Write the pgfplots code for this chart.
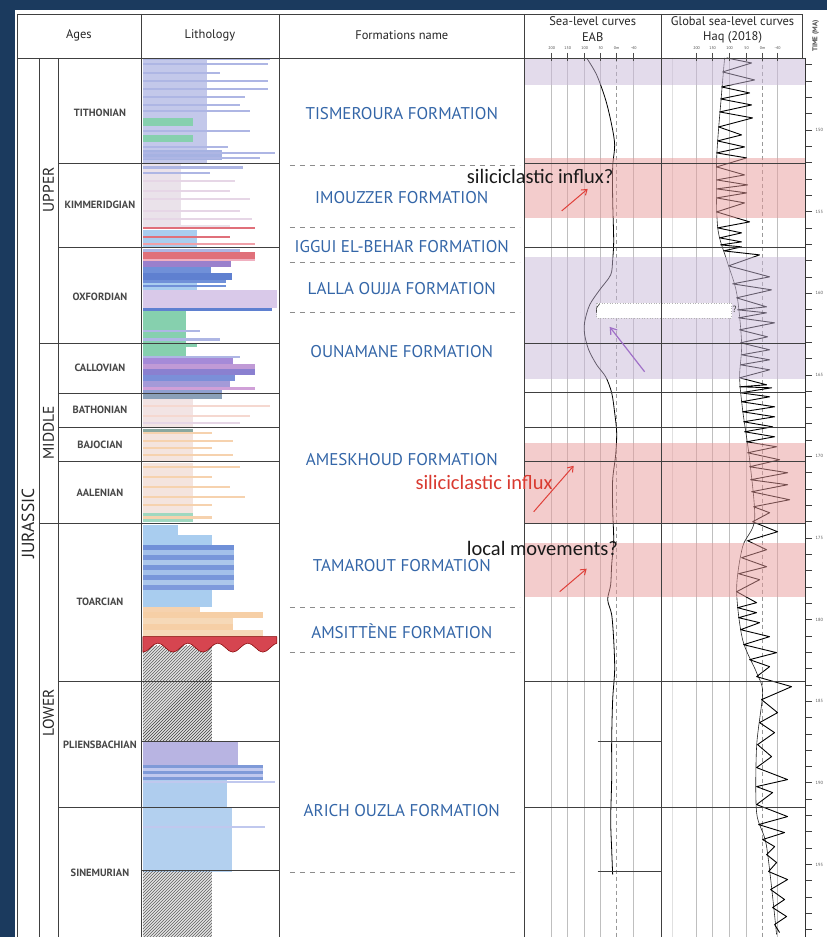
\documentclass[border=0pt]{standalone}
\usepackage{pgfplots}
\pgfplotsset{compat=1.18}
\usepackage{fontspec}
\setmainfont{PT Sans}
\newfontfamily\annot{Carlito}
\usetikzlibrary{patterns,arrows.meta}
\definecolor{navy}{HTML}{1B3A5E}
\definecolor{fblue}{HTML}{3466A8}
\definecolor{lav}{HTML}{C3C8EA}
\definecolor{lavline}{HTML}{AEB6E4}
\definecolor{mint}{HTML}{86D0AE}
\definecolor{pinkgray}{HTML}{EAE2EA}
\definecolor{lblue}{HTML}{A9CDEF}
\definecolor{redl}{HTML}{E0707A}
\definecolor{purp}{HTML}{9A80CC}
\definecolor{mblue}{HTML}{7090D8}
\definecolor{dblue}{HTML}{5F80D0}
\definecolor{lilac}{HTML}{D9C9E9}
\definecolor{cA}{HTML}{A6B2E2}
\definecolor{cB}{HTML}{E6D6E6}
\definecolor{cC}{HTML}{F0A0A8}
\definecolor{cD}{HTML}{F0B0C0}
\definecolor{cE}{HTML}{A58AD8}
\definecolor{cF}{HTML}{C09AD6}
\definecolor{cG}{HTML}{8A80D0}
\definecolor{cH}{HTML}{7B8FD8}
\definecolor{cI}{HTML}{A49AD8}
\definecolor{cJ}{HTML}{D0A0D8}
\definecolor{cK}{HTML}{8FA0D0}
\definecolor{cL}{HTML}{8AA0B8}
\definecolor{cM}{HTML}{F2E4E4}
\definecolor{cN}{HTML}{F5D8D0}
\definecolor{cO}{HTML}{8AA8A0}
\definecolor{cP}{HTML}{F4E4DE}
\definecolor{peach}{HTML}{F6D2AE}
\definecolor{cQ}{HTML}{A0D8C0}
\definecolor{cR}{HTML}{A3C0EA}
\definecolor{cS}{HTML}{7896DA}
\definecolor{cT}{HTML}{ACC7EB}
\definecolor{cU}{HTML}{7E9ADC}
\definecolor{cV}{HTML}{F6CFA6}
\definecolor{cW}{HTML}{F6D9B8}
\definecolor{cX}{HTML}{B8B4E2}
\definecolor{cY}{HTML}{7F9AD8}
\definecolor{cZ}{HTML}{C0C8EE}
\definecolor{sinb}{HTML}{B3D0EF}
\definecolor{plb}{HTML}{AFCDEE}
\definecolor{wavered}{HTML}{D64550}
\definecolor{bandpink}{HTML}{E89A9A}
\definecolor{bandpurp}{HTML}{C9B9D9}
\definecolor{arrred}{HTML}{E0403A}
\definecolor{arrpurp}{HTML}{A070C8}
\definecolor{txtred}{HTML}{D93A30}
\newcommand{\Lr}[4]{\addplot[fill=#4,draw=none] coordinates {(143,#1)(#3,#1)(#3,#2)(143,#2)} --cycle;}
\newcommand{\HL}[3]{\addplot[black!75,line width=0.9pt] coordinates {(#1,#3)(#2,#3)};}
\newcommand{\VL}[3]{\addplot[black!75,line width=0.9pt] coordinates {(#1,#2)(#1,#3)};}
\newcommand{\DL}[1]{\addplot[black!45,line width=0.8pt,dash pattern=on 5pt off 5pt] coordinates {(290,#1)(520,#1)};}
\newcommand{\TL}[2]{\node[font=\fontsize{4.5}{5}\selectfont,text=black!65,anchor=west] at (axis cs:812.5,#2) {#1};}
\newcommand{\HT}[2]{\node[font=\fontsize{4}{4}\selectfont,text=black!70] at (axis cs:#1,48.5) {#2};}
\newcommand{\ST}[2]{\node[font=\fontsize{10.5}{11}\selectfont\bfseries,text=black!72] at (axis cs:100,#2) {#1};}
\newcommand{\FT}[2]{\node[font=\fontsize{17}{17}\selectfont,text=fblue] at (axis cs:402,#2) {#1};}
\begin{document}
\begin{tikzpicture}
\begin{axis}[x=1pt,y=1pt,xmin=0,xmax=827,ymin=0,ymax=937,y dir=reverse,hide axis,clip=false]
% background
\addplot[fill=navy,draw=none] coordinates {(0,0)(827,0)(827,937)(0,937)} --cycle;
\addplot[fill=white,draw=none] coordinates {(15,10)(827,10)(827,937)(15,937)} --cycle;
% ---------- lithology ----------
% Tithonian
\Lr{58}{60}{270}{lavline}
\Lr{60}{160}{207}{lav}
\Lr{63}{65}{268}{lavline}
\Lr{72}{74}{220}{lavline}
\Lr{80}{82}{268}{lavline}
\Lr{88}{90}{268}{lavline}
\Lr{96}{98}{245}{lavline}
\Lr{104}{106}{240}{lavline}
\Lr{110}{112}{250}{lavline}
\Lr{118}{126}{193}{mint}
\Lr{130}{132}{250}{lavline}
\Lr{135}{142}{193}{mint}
\Lr{146}{148}{228}{lavline}
\Lr{150}{160}{222}{cA}
\Lr{152}{154}{275}{lavline}
\Lr{157}{159}{260}{lavline}
\Lr{160}{163}{207}{lav}
% Kimmeridgian
\Lr{163}{225}{181}{pinkgray}
\Lr{166}{169}{243}{lavline}
\Lr{172}{174}{210}{lavline}
\Lr{180}{182}{235}{cB}
\Lr{190}{192}{230}{cB}
\Lr{198}{200}{250}{cB}
\Lr{210}{212}{240}{cB}
\Lr{218}{220}{252}{cB}
\Lr{225}{228}{230}{pinkgray}
\Lr{227}{229}{255}{redl}
\Lr{230}{247}{197}{lblue}
\Lr{236}{238}{230}{redl}
\Lr{243}{245}{255}{cC}
% Oxfordian
\Lr{249}{252}{240}{lavline}
\Lr{252}{259}{255}{redl}
\Lr{259}{261}{255}{cD}
\Lr{261}{267}{231}{purp}
\Lr{267}{273}{211}{mblue}
\Lr{273}{280}{232}{dblue}
\Lr{280}{283}{226}{mblue}
\Lr{283}{290}{197}{lblue}
\Lr{285}{287}{226}{mblue}
\Lr{290}{308}{277}{lilac}
\Lr{308}{311}{272}{dblue}
\Lr{311}{343}{186}{mint}
\Lr{330}{332}{200}{lavline}
\Lr{338}{341}{220}{lavline}
% Callovian
\Lr{344}{347}{197}{mint}
\Lr{347}{358}{186}{mint}
\Lr{356}{358}{240}{lavline}
\Lr{358}{364}{233}{cE}
\Lr{364}{369}{255}{cF}
\Lr{369}{375}{255}{cG}
\Lr{375}{381}{235}{cH}
\Lr{381}{387}{230}{cI}
\Lr{387}{390}{255}{cJ}
\Lr{390}{393}{222}{cK}
% Bathonian
\Lr{394}{399}{222}{cL}
\Lr{399}{428}{193}{cM}
\Lr{405}{407}{270}{cN}
\Lr{415}{417}{250}{cN}
\Lr{422}{424}{240}{cB}
% Bajocian
\Lr{429}{432}{193}{cO}
\Lr{432}{462}{193}{cP}
\Lr{432}{434}{212}{peach}
\Lr{440}{442}{233}{peach}
\Lr{447}{449}{212}{peach}
\Lr{454}{456}{233}{peach}
% Aalenian
\Lr{463}{513}{193}{cP}
\Lr{466}{468}{240}{peach}
\Lr{476}{478}{212}{peach}
\Lr{486}{488}{230}{peach}
\Lr{496}{498}{245}{peach}
\Lr{504}{506}{212}{peach}
\Lr{513}{522}{193}{cQ}
\Lr{516}{519}{212}{peach}
% Toarcian
\Lr{525}{535}{178}{lblue}
\Lr{535}{545}{212}{lblue}
\Lr{545}{550}{234}{mblue}
\Lr{550}{555}{234}{cR}
\Lr{555}{560}{234}{cS}
\Lr{560}{565}{234}{cT}
\Lr{565}{570}{234}{cS}
\Lr{570}{575}{234}{cR}
\Lr{575}{580}{234}{cS}
\Lr{580}{585}{234}{cT}
\Lr{585}{590}{234}{cU}
\Lr{590}{607}{212}{lblue}
\Lr{607}{612}{200}{peach}
\Lr{612}{618}{263}{cV}
\Lr{618}{624}{233}{cW}
\Lr{624}{630}{233}{cV}
\Lr{630}{638}{263}{cW}
% hatch under unconformity
\addplot[fill=black!12,draw=none] coordinates {(143,646)(212,646)(212,742)(143,742)} --cycle;
\addplot[pattern=north east lines,pattern color=black!75,draw=none] coordinates {(143,646)(212,646)(212,742)(143,742)} --cycle;
% red wavy unconformity
\addplot[fill=wavered,draw=red!50!black,line width=0.5pt,line join=round] coordinates {(143,637)(277,637)(277,643.6)(274.25,644.8)(270.5,648)(266.75,651.2)(263,652.5)(259.25,651.2)(255.5,648)(251.75,644.8)(248,643.5)(244.25,644.8)(240.5,648)(236.75,651.2)(233,652.5)(229.25,651.2)(225.5,648)(221.75,644.8)(218,643.5)(214.25,644.8)(210.5,648)(206.75,651.2)(203,652.5)(199.25,651.2)(195.5,648)(191.75,644.8)(188,643.5)(184.25,644.8)(180.5,648)(176.75,651.2)(173,652.5)(169.25,651.2)(165.5,648)(161.75,644.8)(158,643.5)(154.25,644.8)(150.5,648)(146.75,651.2)(143,652.5)} --cycle;
% Pliensbachian
\Lr{742}{765}{238}{cX}
\Lr{765}{768}{263}{cY}
\Lr{768}{771}{263}{cZ}
\Lr{771}{774}{263}{cY}
\Lr{774}{777}{263}{cZ}
\Lr{777}{780}{263}{cY}
\Lr{780}{808}{227}{plb}
\Lr{781}{783}{275}{cZ}
% Sinemurian
\Lr{808}{872}{232}{sinb}
\Lr{826}{828}{265}{cZ}
\addplot[fill=black!12,draw=none] coordinates {(143,872)(212,872)(212,937)(143,937)} --cycle;
\addplot[pattern=north east lines,pattern color=black!75,draw=none] coordinates {(143,872)(212,872)(212,937)(143,937)} --cycle;
% ---------- grid of sea-level columns ----------
\addplot[black!25,line width=1pt] coordinates {(552,58)(552,937)};
\addplot[black!25,line width=1pt] coordinates {(568,58)(568,937)};
\addplot[black!25,line width=1pt] coordinates {(585,58)(585,937)};
\addplot[black!25,line width=1pt] coordinates {(601,58)(601,937)};
\addplot[black!40,line width=0.7pt,dash pattern=on 4pt off 3pt] coordinates {(617,58)(617,937)};
\addplot[black!25,line width=1pt] coordinates {(634,58)(634,937)};
\addplot[black!12,line width=1pt] coordinates {(673,58)(673,937)};
\addplot[black!25,line width=1pt] coordinates {(697,58)(697,937)};
\addplot[black!25,line width=1pt] coordinates {(713,58)(713,937)};
\addplot[black!25,line width=1pt] coordinates {(730,58)(730,937)};
\addplot[black!25,line width=1pt] coordinates {(747,58)(747,937)};
\addplot[black!40,line width=0.7pt,dash pattern=on 4pt off 3pt] coordinates {(763,58)(763,937)};
\addplot[black!25,line width=1pt] coordinates {(778,58)(778,937)};
% EAB curve
\addplot[black,line width=0.8pt,smooth] coordinates {(587,58)(597,75)(606,100)(612,125)(615,145)(613,167)(613,200)(614,240)(613,260)(611,275)(600,290)(590,305)(585,322)(585,335)(589,350)(597,365)(606,377)(612,393)(615,413)(617,433)(616,455)(613,480)(613,510)(614,540)(612,565)(611,585)(608,600)(612,615)(614,640)(615,670)(613,700)(612,740)(612,780)(611,820)(612,850)(613,875)};
% Haq long-term curve
\addplot[black!85,line width=0.6pt,smooth] coordinates {(725,58)(722,93)(717,160)(718,227)(727,260)(737,293)(742,343)(740,377)(743,410)(750,460)(755,520)(743,547)(737,590)(743,640)(757,673)(763,693)(757,747)(757,813)(767,847)(777,935)};
% Haq short-term curve
\addplot[black,line width=0.9pt,line join=round] coordinates {
(727,58)(752,63)(723,72)(755,80)(722,87)(750,93)(721,99)(752,105)(720,112)(753,118)(719,127)(742,135)(718,141)(745,147)(717,153)(747,158)(717,167)(745,175)(717,180)(748,185)(717,189)(747,193)(717,198)(745,203)(717,212)(750,222)(718,228)(742,233)(720,238)(742,242)(721,245)(742,247)(724,251)(760,255)(729,266)(770,277)(733,284)(772,290)(737,298)(767,307)(738,310)(767,313)(739,318)(775,323)(740,330)(768,337)(741,343)(770,350)(742,355)(770,360)(741,365)(770,370)(740,378)(767,385)(740,387)(772,388)(741,393)(770,397)(742,402)(775,407)(743,412)(775,417)(744,422)(773,427)(745,432)(775,437)(747,442)(777,447)(748,453)(780,460)(750,467)(788,473)(751,480)(788,485)(752,492)(790,500)(754,507)(770,513)(753,522)(778,532)(748,541)(767,550)(742,558)(767,567)(739,574)(760,580)(737,592)(757,603)(738,608)(757,613)(739,618)(760,623)(741,630)(770,637)(744,645)(777,653)(750,660)(770,667)(757,677)(792,687)(762,700)(778,713)(760,723)(775,733)(758,745)(772,757)(757,768)(788,780)(757,787)(773,793)(757,805)(788,817)(759,825)(785,833)(763,840)(775,847)(767,855)(777,863)(769,872)(788,880)(771,890)(785,900)(773,908)(787,917)(775,925)(780,933)};
% ---------- coloured bands ----------
\addplot[fill=bandpurp,fill opacity=0.5,draw=none] coordinates {(525,58)(805,58)(805,85)(525,85)} --cycle;
\addplot[fill=bandpink,fill opacity=0.5,draw=none] coordinates {(525,158)(805,158)(805,218)(525,218)} --cycle;
\addplot[fill=bandpurp,fill opacity=0.5,draw=none] coordinates {(525,257)(805,257)(805,379)(525,379)} --cycle;
\addplot[fill=bandpink,fill opacity=0.5,draw=none] coordinates {(525,443)(805,443)(805,523)(525,523)} --cycle;
\addplot[fill=bandpink,fill opacity=0.5,draw=none] coordinates {(525,543)(805,543)(805,597)(525,597)} --cycle;
% dotted box with question mark
\addplot[fill=white,draw=black!30,dotted,line width=0.6pt] coordinates {(597,303)(732,303)(732,318)(597,318)} --cycle;
\addplot[black!80,line width=0.6pt,smooth] coordinates {(600,304)(597,308)(597,313)};
\node[font=\fontsize{9}{9}\selectfont,text=black!80] at (axis cs:735,310) {?};
% ---------- frame ----------
\HL{17}{803}{14}
\HL{17}{806}{58}
\VL{17}{14}{937}
\VL{141.5}{14}{937}
\VL{280}{14}{937}
\VL{525}{14}{937}
\VL{662}{14}{937}
\VL{803}{14}{58}
\VL{39}{58}{937}
\VL{58}{58}{937}
\HL{39}{58}{344}
\HL{39}{58}{524}
\HL{58}{280}{163.5}
\HL{58}{280}{248}
\HL{58}{280}{344}
\HL{58}{280}{394}
\HL{58}{280}{428}
\HL{58}{280}{462}
\HL{58}{280}{524}
\HL{58}{280}{682}
\HL{142}{280}{742}
\HL{58}{280}{808}
\HL{142}{280}{871}
\HL{525}{806}{164}
\HL{525}{806}{248}
\HL{525}{806}{344}
\HL{525}{806}{393}
\HL{525}{806}{428}
\HL{525}{806}{462}
\HL{525}{806}{524}
\HL{525}{806}{682}
\HL{598}{662}{742}
\HL{525}{806}{808}
\HL{598}{662}{872}
\DL{165}
\DL{228}
\DL{263}
\DL{313}
\DL{608}
\DL{653}
\DL{873}
% ---------- time axis ----------
\addplot[black!80,line width=1pt] coordinates {(806,58)(806,937)};
\addplot[only marks,mark=-,mark size=3,mark options={black!75,line width=0.6pt}] coordinates {
(809,64.7)(809,81.0)(809,97.3)(809,113.7)(809,130)(809,146.3)(809,162.7)(809,179.0)(809,195.3)(809,211.7)(809,228.0)(809,244.3)(809,260.6)(809,277.0)(809,293.3)(809,309.6)(809,326.0)(809,342.3)(809,358.6)(809,375.0)(809,391.3)(809,407.6)(809,423.9)(809,440.3)(809,456.6)(809,472.9)(809,489.3)(809,505.6)(809,521.9)(809,538.3)(809,554.6)(809,570.9)(809,587.2)(809,603.6)(809,619.9)(809,636.2)(809,652.6)(809,668.9)(809,685.2)(809,701.6)(809,717.9)(809,734.2)(809,750.5)(809,766.9)(809,783.2)(809,799.5)(809,815.9)(809,832.2)(809,848.5)(809,864.9)(809,881.2)(809,897.5)(809,913.8)(809,930.2)};
\TL{150}{130}
\TL{155}{211.7}
\TL{160}{293.3}
\TL{165}{375.0}
\TL{170}{456.6}
\TL{175}{538.3}
\TL{180}{619.9}
\TL{185}{701.6}
\TL{190}{783.2}
\TL{195}{864.9}
\node[rotate=90,font=\fontsize{7}{7}\selectfont\bfseries,text=black!70] at (axis cs:816,36) {TIME (MA)};
% header ticks
\addplot[only marks,mark=|,mark size=4,mark options={black!70,line width=0.5pt}] coordinates {(552,57)(568,57)(585,57)(601,57)(617,57)(634,57)(697,57)(713,57)(730,57)(747,57)(763,57)(778,57)};
\HT{552}{200}
\HT{568}{150}
\HT{585}{100}
\HT{601}{50}
\HT{617}{0m}
\HT{634}{-40}
\HT{697}{200}
\HT{713}{150}
\HT{730}{100}
\HT{747}{50}
\HT{763}{0m}
\HT{778}{-40}
% header texts
\node[font=\fontsize{12.5}{13}\selectfont,text=black!85] at (axis cs:79,35) {Ages};
\node[font=\fontsize{12.5}{13}\selectfont,text=black!85] at (axis cs:210,35) {Lithology};
\node[font=\fontsize{12.5}{13}\selectfont,text=black!85] at (axis cs:402,35) {Formations name};
\node[font=\fontsize{12.5}{13}\selectfont,text=black!85] at (axis cs:593,21) {Sea-level curves};
\node[font=\fontsize{12.5}{13}\selectfont,text=black!85] at (axis cs:593,37) {EAB};
\node[font=\fontsize{12.5}{13}\selectfont,text=black!85] at (axis cs:733,21) {Global sea-level curves};
\node[font=\fontsize{12.5}{13}\selectfont,text=black!85] at (axis cs:733,37) {Haq (2018)};
% ages
\ST{TITHONIAN}{113}
\ST{KIMMERIDGIAN}{205}
\ST{OXFORDIAN}{297}
\ST{CALLOVIAN}{368}
\ST{BATHONIAN}{410}
\ST{BAJOCIAN}{445}
\ST{AALENIAN}{493}
\ST{TOARCIAN}{602}
\ST{PLIENSBACHIAN}{745}
\ST{SINEMURIAN}{873}
\node[rotate=90,font=\fontsize{15.5}{15.5}\selectfont,text=black!85] at (axis cs:48.5,190) {UPPER};
\node[rotate=90,font=\fontsize{15.5}{15.5}\selectfont,text=black!85] at (axis cs:48.5,433) {MIDDLE};
\node[rotate=90,font=\fontsize{15.5}{15.5}\selectfont,text=black!85] at (axis cs:48.5,713) {LOWER};
\node[rotate=90,font=\fontsize{17.5}{17.5}\selectfont,text=black!85] at (axis cs:28,524) {JURASSIC};
% formations
\FT{TISMEROURA FORMATION}{114}
\FT{IMOUZZER FORMATION}{198}
\FT{IGGUI EL-BEHAR FORMATION}{247}
\FT{LALLA OUJJA FORMATION}{289}
\FT{OUNAMANE FORMATION}{352}
\FT{AMESKHOUD FORMATION}{460}
\FT{TAMAROUT FORMATION}{566}
\FT{AMSITTÈNE FORMATION}{632}
\FT{ARICH OUZLA FORMATION}{811}
% annotations
\node[font=\annot\fontsize{20.5}{20.5}\selectfont,text=black!90,anchor=west,inner sep=0pt] at (axis cs:467,177) {siliciclastic influx?};
\node[font=\annot\fontsize{20.5}{20.5}\selectfont,text=txtred,anchor=east,inner sep=0pt] at (axis cs:553,483) {siliciclastic influx};
\node[font=\annot\fontsize{20.5}{20.5}\selectfont,text=black!90,anchor=west,inner sep=0pt] at (axis cs:467,549) {local movements?};
\addplot[arrred,line width=1pt,-{Straight Barb[length=5pt,width=7pt]}] coordinates {(562,211)(588,189)};
\addplot[arrred,line width=1pt,-{Straight Barb[length=5pt,width=7pt]}] coordinates {(534,512)(574,466)};
\addplot[arrred,line width=1pt,-{Straight Barb[length=5pt,width=7pt]}] coordinates {(560,592)(587,569)};
\addplot[arrpurp,line width=1.2pt,-{Straight Barb[length=6pt,width=8pt]}] coordinates {(645,372)(610,327)};
\end{axis}
\end{tikzpicture}
\end{document}
